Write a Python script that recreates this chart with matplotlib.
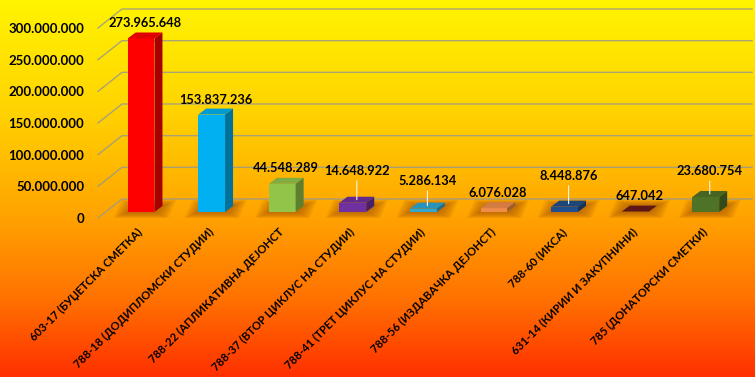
import numpy as np
import matplotlib.pyplot as plt
from matplotlib.colors import LinearSegmentedColormap, to_rgb
from matplotlib.patches import Polygon

plt.rcParams['font.family'] = ['Lato', 'Open Sans', 'DejaVu Sans']

# =========================
# Data
# =========================
categories = [
    "603-17 (БУЏЕТСКА СМЕТКА)",
    "788-18 (ДОДИПЛОМСКИ СТУДИИ)",
    "788-22 (АПЛИКАТИВНА ДЕЈОНСТ",
    "788-37 (ВТОР ЦИКЛУС НА СТУДИИ)",
    "788-41 (ТРЕТ ЦИКЛУС НА СТУДИИ)",
    "788-56 (ИЗДАВАЧКА ДЕЈОНСТ)",
    "788-60 (ИКСА)",
    "631-14 (КИРИИ И ЗАКУПНИНИ)",
    "785 (ДОНАТОРСКИ СМЕТКИ)",
]
values = [273965648, 153837236, 44548289, 14648922, 5286134,
          6076028, 8448876, 647042, 23680754]
yticks = [0, 50000000, 100000000, 150000000, 200000000, 250000000, 300000000]

# =========================
# Style
# =========================
colors = ["#FF0000", "#00B0F0", "#92C44A", "#7030A0", "#2FA8D2",
          "#F08C4A", "#1F4E8C", "#6A1A1A", "#4F7326"]
label_lift = [12, 12, 13, 29, 25, 12, 28, 13, 23]   # px above bar top
leader = [False, False, False, True, True, False, True, False, True]


def fmt(v):
    return f"{v:,}".replace(",", ".")


def shade(c, f):
    r, g, b = to_rgb(c)
    return (r * f, g * f, b * f)


W, H = 755, 377
fig = plt.figure(figsize=(W / 100, H / 100), dpi=100)

# gradient background
bg = fig.add_axes([0, 0, 1, 1], zorder=-1)
cmap = LinearSegmentedColormap.from_list(
    "bg", [(0.0, "#FFF400"), (0.3, "#FFD200"), (0.57, "#FFA400"),
           (0.8, "#FF7000"), (1.0, "#FF3000")])
grad = np.linspace(0, 1, 256).reshape(-1, 1)
bg.imshow(grad, aspect="auto", cmap=cmap, extent=[0, 1, 0, 1])
bg.axis("off")

# plot axes (front-left corner of the 3D box at pixel 98, 218)
ax = fig.add_axes([98 / W, 1 - 218 / H, (752 - 98) / W, 210 / H])
ax.patch.set_visible(False)
x0, x1 = -0.61, 8.655
y_per_px = 300000000 / 190
ax.set_xlim(x0, x1)
ax.set_ylim(0, 210 * y_per_px)
x_per_px = (x1 - x0) / (752 - 98)

for s in ax.spines.values():
    s.set_visible(False)

# gridlines on back wall, with slanted side-wall segment
back_dx = 24 * x_per_px
back_dy = 19 * y_per_px
for v in yticks:
    ax.plot([x0, x0 + back_dx, x1], [v, v + back_dy, v + back_dy],
            color="#9a9a8a", lw=1.0, alpha=0.85, zorder=0, clip_on=False)

# bars
x = np.arange(len(values))
bw = 0.38
base = 6 * y_per_px
ddx = 8 * x_per_px
ddy = 6 * y_per_px

for xi, v, c in zip(x, values, colors):
    # blurred shadow on the floor
    for k in range(8):
        e = 14 - k * 1.6
        ex = e * x_per_px
        ey = e * 0.45 * y_per_px
        pts = [(xi - bw / 2 - ex, base - ey),
               (xi + bw / 2 + ex, base - ey),
               (xi + bw / 2 + ddx + ex, base + ddy + ey),
               (xi - bw / 2 + ddx - ex, base + ddy + ey)]
        ax.add_patch(Polygon(pts, closed=True, color="#9A4A00",
                             alpha=0.09, lw=0, zorder=1))
    top = base + v
    ax.bar(xi, v, width=bw, bottom=base, color=c, zorder=3, lw=0)
    ax.add_patch(Polygon([(xi - bw / 2, top), (xi + bw / 2, top),
                          (xi + bw / 2 + ddx, top + ddy),
                          (xi - bw / 2 + ddx, top + ddy)],
                         closed=True, color=shade(c, 0.88), lw=0, zorder=3))
    ax.add_patch(Polygon([(xi + bw / 2, base), (xi + bw / 2 + ddx, base + ddy),
                          (xi + bw / 2 + ddx, top + ddy), (xi + bw / 2, top)],
                         closed=True, color=shade(c, 0.65), lw=0, zorder=3))

# data labels
for xi, v, lift, ld in zip(x, values, label_lift, leader):
    xy = (xi + ddx / 2, base + v + ddy / 2)
    ax.annotate(fmt(v), xy=xy, xytext=(0, lift), textcoords="offset pixels",
                ha="center", va="center", fontsize=9.3, fontweight="bold",
                color="black", zorder=6,
                arrowprops=dict(arrowstyle="-", color="#f2f2f2", lw=0.8,
                                shrinkA=1, shrinkB=0) if ld else None)

# axis labels
ax.set_yticks(yticks)
ax.set_yticklabels([fmt(t) for t in yticks], fontsize=9.5, fontweight="bold")
ax.tick_params(axis="y", length=0, pad=10)
ax.set_xticks(x)
ax.set_xticklabels(categories, rotation=45, ha="right", va="center",
                   rotation_mode="anchor", fontsize=8.1, fontweight="bold")
ax.tick_params(axis="x", length=0, pad=9)

fig.savefig("out.png", dpi=100)
